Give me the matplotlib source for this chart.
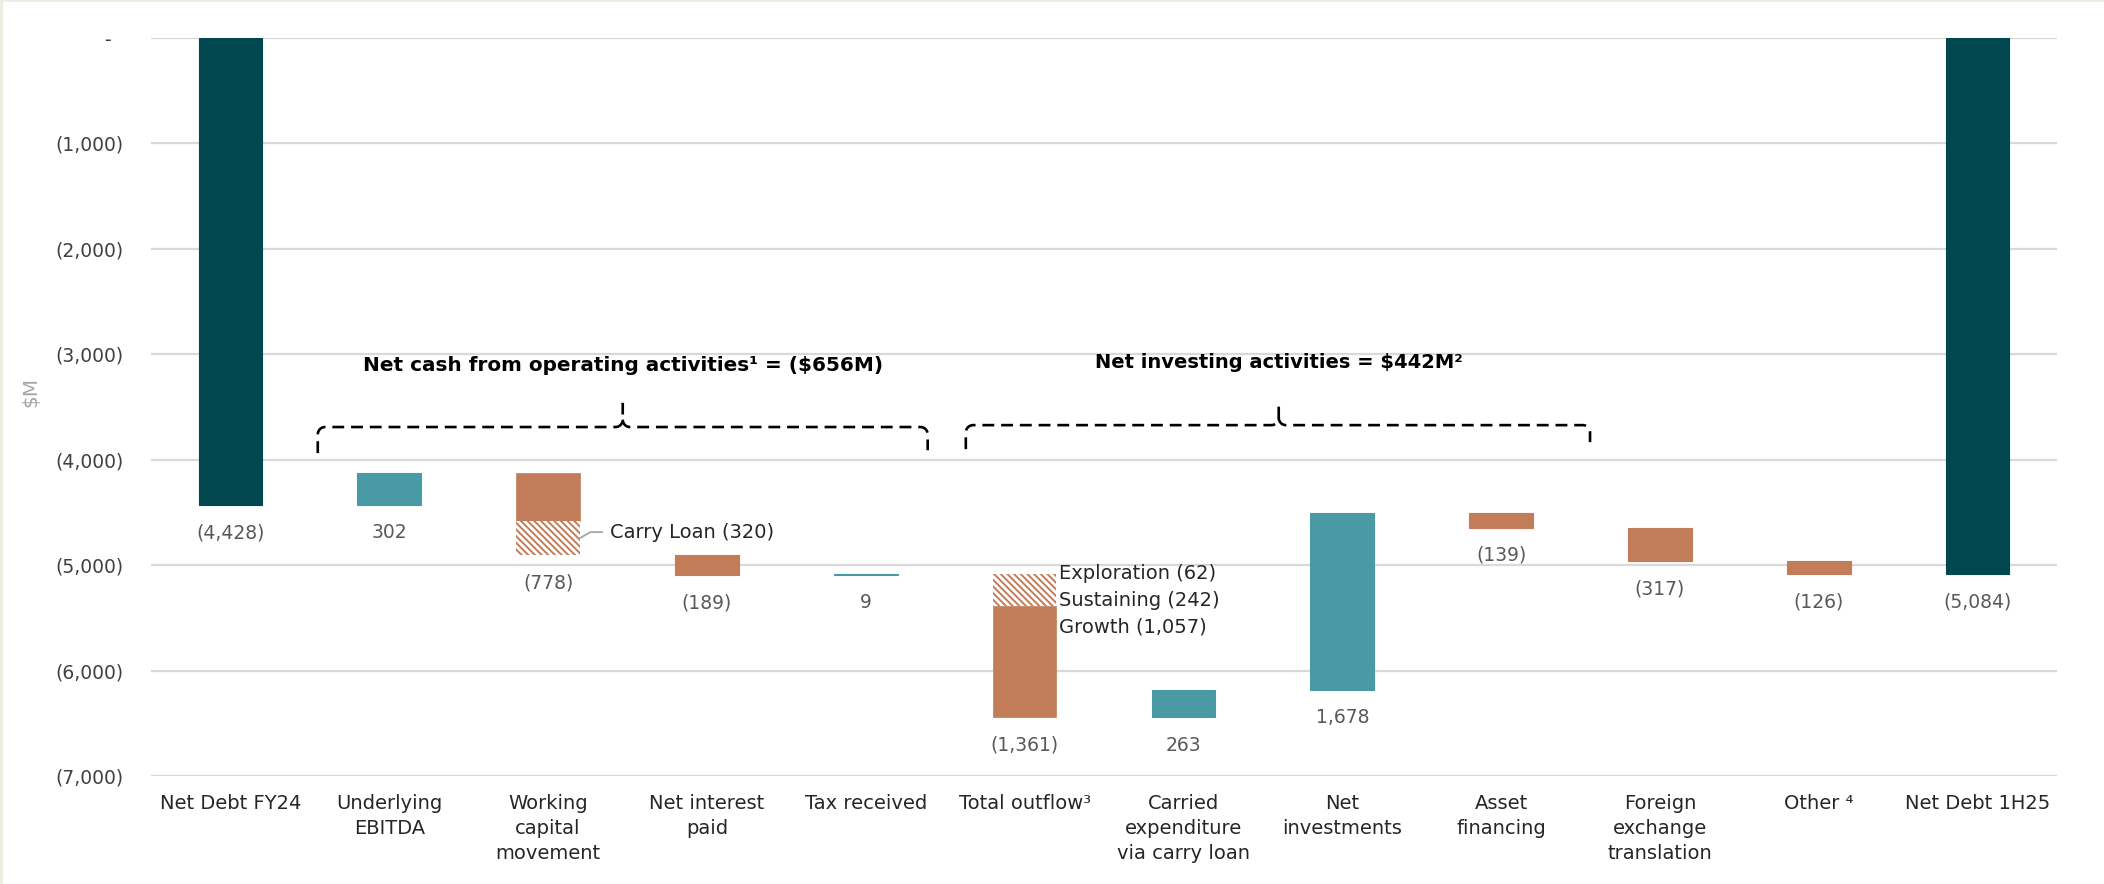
import numpy as np
import matplotlib
matplotlib.use('Agg')
import matplotlib.pyplot as plt
from matplotlib.patches import Rectangle

plt.rcParams['font.family'] = ['DejaVu Sans']
plt.rcParams['hatch.linewidth'] = 1.4

# --- data ($M) ---
categories = ["Net Debt FY24", "Underlying\nEBITDA", "Working\ncapital\nmovement",
              "Net interest\npaid", "Tax received", "Total outflow\u00b3",
              "Carried\nexpenditure\nvia carry loan", "Net\ninvestments", "Asset\nfinancing",
              "Foreign\nexchange\ntranslation", "Other \u2074", "Net Debt 1H25"]
changes = [-4428, 302, -778, -189, 9, -1361, 263, 1678, -139, -317, -126, -5084]
is_total = [True, False, False, False, False, False, False, False, False, False, False, True]

carry_loan = -320        # part of working capital movement
exploration = -62        # parts of total outflow
sustaining = -242
growth = -1057

COL_TOTAL = '#00474F'
COL_UP = '#4A9AA5'
COL_DOWN = '#C27C59'
GRID = '#D9D9D9'
HATCH = '\\\\\\\\\\'

fig = plt.figure(figsize=(21.04, 8.84), dpi=100)
fig.patch.set_facecolor('#EFECE4')
fig.patches.append(Rectangle((3 / 2104, 0), 1, 1 - 2 / 884, transform=fig.transFigure,
                             facecolor='white', edgecolor='none', zorder=-1))
ax = fig.add_axes([151 / 2104, 1 - 776 / 884, 1906 / 2104, 738 / 884])
ax.set_facecolor('none')

x = np.arange(len(categories))
w = 0.4

def fmt(v):
    s = f"{abs(v):,.0f}"
    return f"({s})" if v < 0 else s

running = 0
for i, v in enumerate(changes):
    if is_total[i]:
        bottom, height, col = 0, v, COL_TOTAL
        running = v
    else:
        bottom, height = running, v
        col = COL_UP if v > 0 else COL_DOWN
        running += v

    if i == 2:
        solid = v - carry_loan
        ax.bar(x[i], solid, bottom=bottom, width=w, color=COL_DOWN, edgecolor=COL_DOWN, lw=0.5, zorder=3)
        ax.bar(x[i], carry_loan, bottom=bottom + solid, width=w, facecolor='white',
               edgecolor=COL_DOWN, hatch=HATCH, lw=0, zorder=3)
    elif i == 5:
        b = bottom
        for part in (exploration, sustaining):
            ax.bar(x[i], part, bottom=b, width=w, facecolor='white',
                   edgecolor=COL_DOWN, hatch=HATCH, lw=0, zorder=3)
            b += part
        ax.bar(x[i], growth, bottom=b, width=w, color=COL_DOWN, edgecolor=COL_DOWN, lw=0.5, zorder=3)
    else:
        ax.bar(x[i], height, bottom=bottom, width=w, color=col, edgecolor=col, lw=0.8, zorder=3)

    low = min(bottom, bottom + height)
    ax.annotate(fmt(v), (x[i], low), xytext=(0, -20), textcoords='offset points',
                ha='center', va='center', fontsize=13.5, color='#595959')

# side notes on split bars
wc_bottom = changes[0] + changes[1]
mid = wc_bottom + (changes[2] - carry_loan) + carry_loan / 2
ax.plot([x[2] + w / 2, x[2] + 0.266, x[2] + 0.34], [mid, mid + 57, mid + 57],
        color='#A6A6A6', lw=1.3, zorder=4)
ax.text(x[2] + 0.39, mid + 57, f"Carry Loan {fmt(carry_loan)}", fontsize=14,
        color='#262626', va='center', ha='left')

to_top = sum(changes[:5])
for k, (name, val) in enumerate([("Exploration", exploration), ("Sustaining", sustaining),
                                 ("Growth", growth)]):
    ax.text(x[5] + w / 2 + 0.015, to_top + 8 - k * 255, f"{name} {fmt(val)}", fontsize=14,
            color='#262626', va='center', ha='left')

# group braces
def brace(x0, x1, xc, yh, yb0, yb1, ytop):
    rx, ry = 0.045, 70
    def arc(cx, cy, a0, a1):
        t = np.linspace(a0, a1, 10)
        return list(cx + rx * np.cos(t)), list(cy + ry * np.sin(t))
    ax_, ay_ = arc(x0 + rx, yh - ry, np.pi, np.pi / 2)
    bx_, by_ = arc(xc - rx, yh + ry, -np.pi / 2, 0)
    lx = [x0] + ax_ + bx_ + [xc]
    ly = [yb0] + ay_ + by_ + [ytop]
    cx_, cy_ = arc(xc + rx, yh + ry, np.pi, 1.5 * np.pi)
    dx_, dy_ = arc(x1 - rx, yh - ry, np.pi / 2, 0)
    rxs = cx_ + dx_ + [x1]
    rys = cy_ + dy_ + [yb1]
    for xs, ys in ((lx, ly), (rxs, rys)):
        ax.plot(xs, ys, color='black', lw=1.9, ls=(0, (4.5, 2.6)), zorder=5,
                solid_capstyle='butt', dash_capstyle='butt')

brace(0.55, 4.39, 2.47, -3690, -3937, -3910, -3460)
brace(4.63, 8.56, 6.60, -3672, -3900, -3833, -3453)
ax.text(2.47, -3103, "Net cash from operating activities\u00b9 = ($656M)", fontsize=14.4,
        fontweight='bold', ha='center', va='center', color='black')
ax.text(6.60, -3074, "Net investing activities = $442M\u00b2", fontsize=14.0,
        fontweight='bold', ha='center', va='center', color='black')

# axes styling
ax.set_xlim(-0.5, len(categories) - 0.5)
ax.set_ylim(-7000, 0)
yt = np.arange(-7000, 1, 1000)
ax.set_yticks(yt)
ax.set_yticklabels(["-  " if v == 0 else fmt(v) for v in yt])
ax.set_xticks(x)
ax.set_xticklabels(categories, linespacing=1.4)
ax.tick_params(axis='y', length=0, pad=20, labelsize=13.5, labelcolor='#404040')
ax.tick_params(axis='x', length=0, pad=13, labelsize=14, labelcolor='#262626')
ax.yaxis.grid(True, color=GRID, lw=1.6)
ax.set_axisbelow(True)
for s in ax.spines.values():
    s.set_visible(False)
ax.set_ylabel("$M", fontsize=14.5, color='#A6A6A6')
ax.yaxis.set_label_coords(-0.058, 0.52)

fig.savefig('out.png', dpi=100)
